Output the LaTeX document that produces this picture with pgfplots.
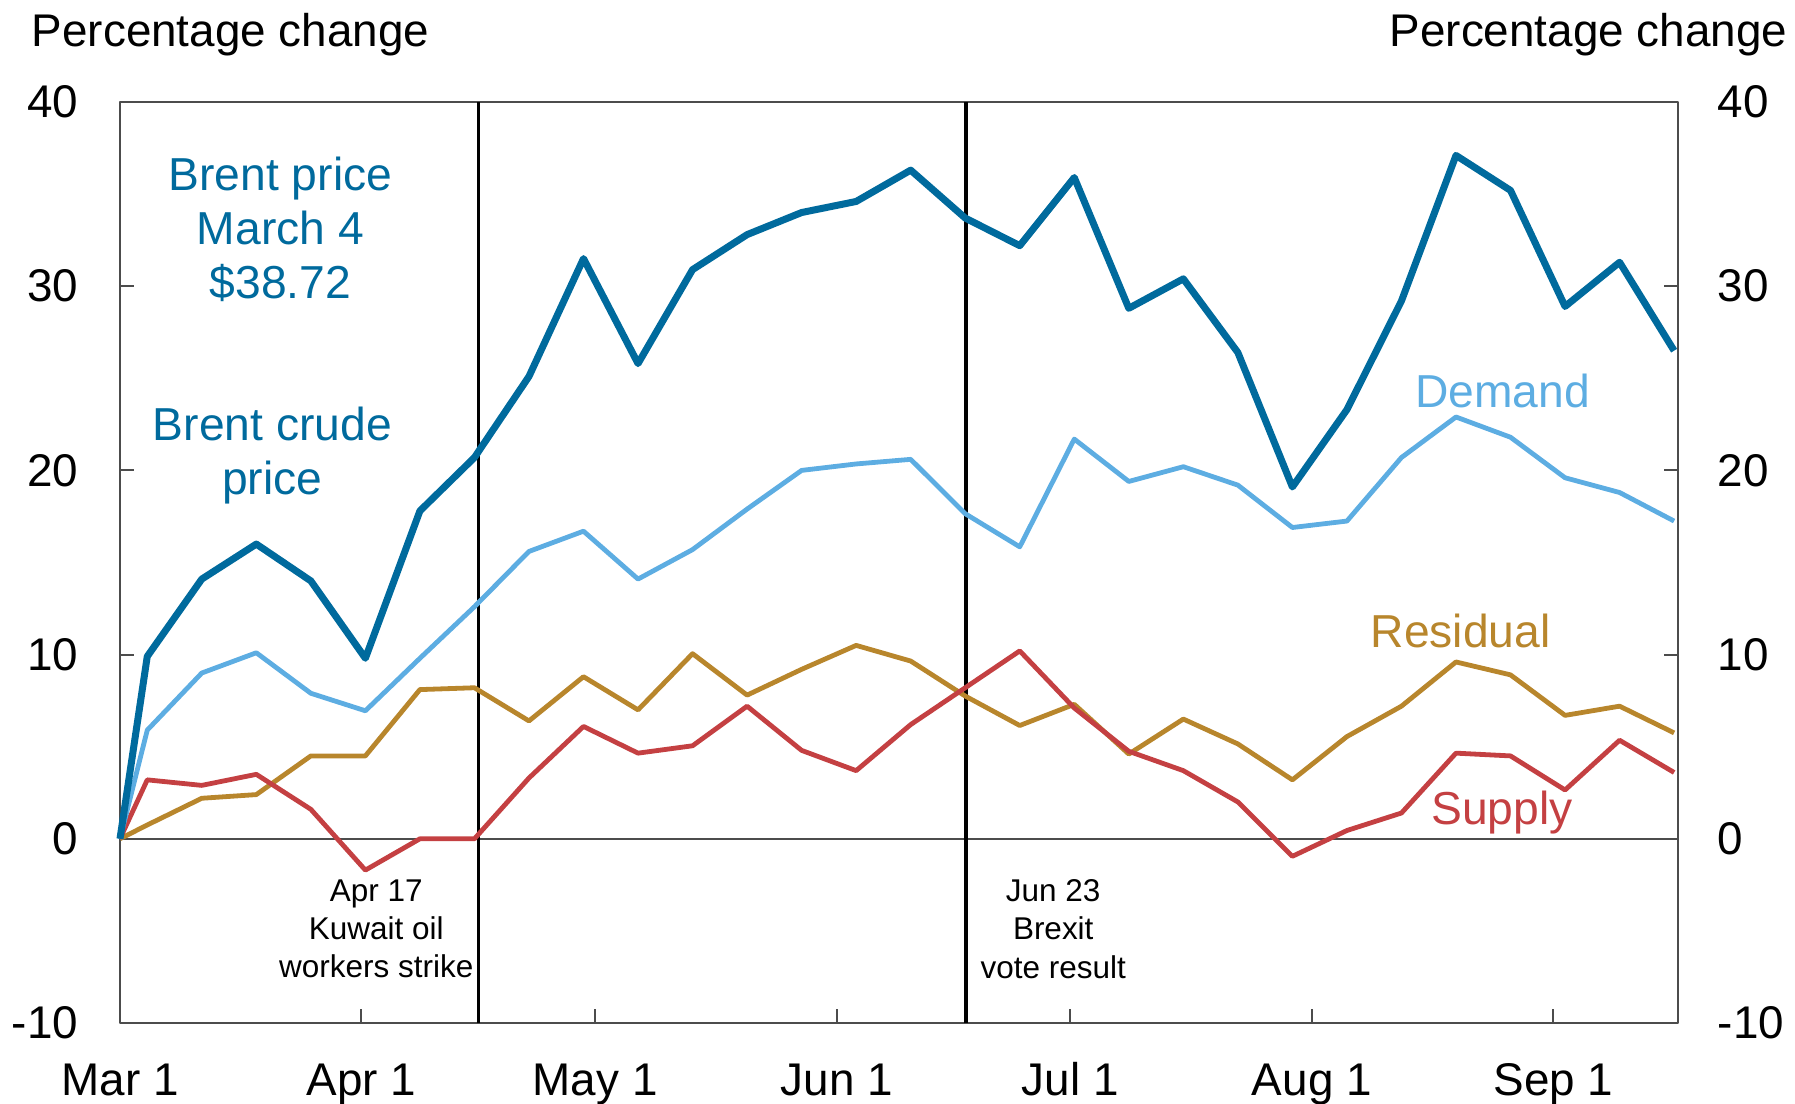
\documentclass[border=0pt]{standalone}
\usepackage{fontspec}
\setmainfont{Liberation Sans}
\usepackage{pgfplots}
\usepackage{pgfplotstable}
\pgfplotsset{compat=1.18}

\definecolor{brent}{RGB}{0,106,157}
\definecolor{demand}{RGB}{93,173,226}
\definecolor{residual}{RGB}{184,134,44}
\definecolor{supply}{RGB}{196,64,66}

\pgfplotstableread{
x     brent demand residual supply
0     0     0      0        0
3.5   9.9   5.9    0.75     3.2
10.5  14.1  9.0    2.2      2.9
17.5  16.0  10.1   2.4      3.5
24.5  14.0  7.9    4.5      1.6
31.5  9.8   6.95   4.5      -1.7
38.5  17.8  9.8    8.1      0.0
45.5  20.7  12.6   8.2      0.0
52.5  25.1  15.6   6.4      3.3
59.5  31.5  16.7   8.8      6.1
66.5  25.8  14.1   7.0      4.65
73.5  30.9  15.7   10.05    5.05
80.5  32.8  17.9   7.8      7.2
87.5  34.0  20.0   9.2      4.8
94.5  34.6  20.35  10.5     3.7
101.5 36.3  20.6   9.65     6.2
108.5 33.7  17.65  7.75     8.2
115.5 32.2  15.85  6.15     10.2
122.5 35.9  21.7   7.3      7.1
129.5 28.8  19.4   4.6      4.75
136.5 30.4  20.2   6.5      3.7
143.5 26.4  19.2   5.15     2.0
150.5 19.1  16.9   3.2      -0.95
157.5 23.3  17.25  5.55     0.45
164.5 29.2  20.7   7.2      1.4
171.5 37.1  22.9   9.6      4.65
178.5 35.2  21.8   8.9      4.5
185.5 28.9  19.6   6.7      2.65
192.5 31.3  18.8   7.2      5.35
199.5 26.5  17.25  5.75     3.6
}\datatable

\begin{document}
\begin{tikzpicture}
\useasboundingbox (-30bp,-20.25bp) rectangle (418.75bp,255.75bp);
\begin{axis}[
  at={(0,0)}, anchor=south west,
  scale only axis, width=389.5bp, height=230.25bp,
  xmin=0, xmax=200, ymin=-10, ymax=40,
  xtick={0,31,61,92,122,153,184},
  xticklabels={Mar 1,Apr 1,May 1,Jun 1,Jul 1,Aug 1,Sep 1},
  ytick={-10,0,10,20,30,40},
  yticklabels={-10,0,10,20,30,40},
  tick align=inside, xtick pos=bottom, ytick pos=left,
  major tick length=3.5bp,
  tick style={black!70, line width=0.5bp},
  axis line style={black!70, line width=0.6bp},
  ticklabel style={font=\fontsize{11.5}{13}\selectfont, inner sep=0pt},
  yticklabel style={anchor=east, xshift=-10.25bp},
  xticklabel style={anchor=base, yshift=-18bp},
  clip=false,
  line join=round,
]
\draw[black!70, line width=0.5bp] (axis cs:0,0) -- (axis cs:200,0);
\draw[black, line width=0.9bp] (axis cs:46,-10) -- (axis cs:46,40);
\draw[black, line width=0.9bp] (axis cs:108.6,-10) -- (axis cs:108.6,40);

\addplot[residual, line width=1.2bp, no markers] table[x=x, y=residual] {\datatable};
\addplot[supply, line width=1.2bp, no markers] table[x=x, y=supply] {\datatable};
\addplot[demand, line width=1.2bp, no markers] table[x=x, y=demand] {\datatable};
\addplot[brent, line width=1.75bp, no markers] table[x=x, y=brent] {\datatable};

\node[text=brent, align=center, font=\fontsize{11.6}{13.5}\selectfont] at (axis cs:20.6,33.1) {Brent price\\March 4\\\$38.72};
\node[text=brent, align=center, font=\fontsize{11.6}{13.5}\selectfont] at (axis cs:19.55,20.8) {Brent crude\\price};
\node[text=demand, font=\fontsize{11.6}{13.5}\selectfont] at (axis cs:177.5,24.3) {Demand};
\node[text=residual, font=\fontsize{11.6}{13.5}\selectfont] at (axis cs:172.1,11.3) {Residual};
\node[text=supply, font=\fontsize{11.6}{13.5}\selectfont] at (axis cs:177.4,1.43) {Supply};

\node[align=center, font=\fontsize{7.9}{9.6}\selectfont] at (axis cs:32.9,-4.9) {Apr 17\\Kuwait oil\\workers strike};
\node[align=center, font=\fontsize{7.9}{9.6}\selectfont] at (axis cs:119.8,-4.9) {Jun 23\\Brexit\\vote result};

\node[anchor=base west, inner sep=0pt, xshift=-22.25bp, yshift=14bp, font=\fontsize{11.5}{13}\selectfont] at (rel axis cs:0,1) {Percentage change};
\node[anchor=base east, inner sep=0pt, xshift=27.5bp, yshift=14bp, font=\fontsize{11.5}{13}\selectfont] at (rel axis cs:1,1) {Percentage change};
\end{axis}
\begin{axis}[
  at={(0,0)}, anchor=south west,
  scale only axis, width=389.5bp, height=230.25bp,
  xmin=0, xmax=200, ymin=-10, ymax=40,
  hide x axis, axis y line*=right,
  ytick={-10,0,10,20,30,40},
  yticklabels={-10,0,10,20,30,40},
  tick align=inside,
  major tick length=3.5bp,
  tick style={black!70, line width=0.5bp},
  axis line style={black!70, line width=0.6bp},
  yticklabel style={font=\fontsize{11.5}{13}\selectfont, inner sep=0pt, anchor=west, xshift=9.75bp},
]
\end{axis}
\end{tikzpicture}
\end{document}
